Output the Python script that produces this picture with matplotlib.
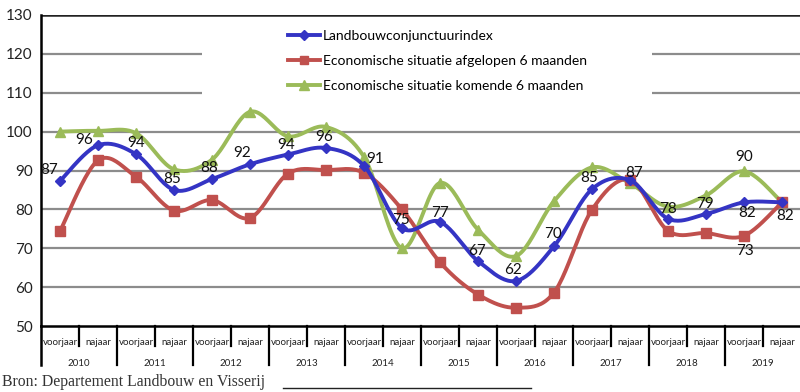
import numpy as np
import matplotlib
matplotlib.use("Agg")
import matplotlib.pyplot as plt
from matplotlib.patches import Rectangle
from matplotlib.lines import Line2D

years = ["2010", "2011", "2012", "2013", "2014", "2015", "2016", "2017", "2018", "2019"]
halves = ["voorjaar", "najaar"]

index_vals = [87.3, 96.5, 94.2, 85.0, 87.8, 91.6, 94.1, 95.8, 91.2, 75.2, 76.8, 66.7, 61.6, 70.5, 85.2, 87.5, 77.6, 78.8, 81.8, 81.8]
past_vals = [74.4, 92.6, 88.4, 79.7, 82.4, 77.8, 89.2, 90.1, 89.4, 80.0, 66.4, 58.1, 54.7, 58.6, 79.9, 87.6, 74.5, 73.9, 73.2, 81.8]
future_vals = [100.0, 100.2, 99.6, 90.3, 92.8, 105.1, 98.8, 101.2, 93.5, 70.0, 86.8, 74.8, 68.0, 82.1, 90.8, 86.7, 80.7, 83.6, 89.8, 81.8]

series_names = ["Landbouwconjunctuurindex",
                "Economische situatie afgelopen 6 maanden",
                "Economische situatie komende 6 maanden"]

# labels: (category index, label text, which series, offset in points)
label_points = [(0, "87", 0, (-8, 8)), (1, "96", 0, (-10, 4)), (2, "94", 0, (0, 8)),
                (3, "85", 0, (-1, 8)), (4, "88", 0, (-2, 8)), (5, "92", 0, (-6, 8)),
                (6, "94", 0, (-1, 7)), (7, "96", 0, (-1, 8)), (8, "91", 0, (8, 5)),
                (9, "75", 0, (-1, 6)), (10, "77", 0, (0, 6)), (11, "67", 0, (-1, 7)),
                (12, "62", 0, (-2, 8)), (13, "70", 0, (-1, 9)), (14, "85", 0, (-2, 8)),
                (15, "87", 1, (3, 5)), (16, "78", 0, (0, 7)), (17, "79", 0, (-1, 7)),
                (18, "82", 0, (2, -8)), (18, "90", 2, (0, 10)), (18, "73", 1, (1, -11)),
                (19, "82", 0, (2, -10))]

plt.rcParams['font.family'] = ['Lato', 'DejaVu Sans']

def smooth(y, n=24):
    y = np.asarray(y, float)
    x = np.arange(len(y), dtype=float)
    P = np.column_stack([x, y])
    P = np.vstack([P[0], P, P[-1]])
    out = []
    t = np.linspace(0, 1, n)
    for i in range(1, len(P) - 2):
        p0, p1, p2, p3 = P[i - 1], P[i], P[i + 1], P[i + 2]
        c1 = p1 + (p2 - p0) / 6.0
        c2 = p2 - (p3 - p1) / 6.0
        seg = ((1 - t) ** 3)[:, None] * p1 + (3 * (1 - t) ** 2 * t)[:, None] * c1 \
            + (3 * (1 - t) * t ** 2)[:, None] * c2 + (t ** 3)[:, None] * p2
        out.append(seg if i == 1 else seg[1:])
    S = np.vstack(out)
    return S[:, 0], S[:, 1]

fig = plt.figure(figsize=(8, 3.92), dpi=100)
ax = fig.add_axes([41 / 800, 1 - 326 / 392, 760 / 800, (326 - 15) / 392])

ax.set_ylim(50, 130)
ax.set_xlim(-0.5, len(index_vals) - 0.5)
ax.set_yticks(np.arange(50, 131, 10))
ax.tick_params(axis='y', length=0, labelsize=11, pad=6, colors='#222222')
ax.set_xticks([])
for s in ['right', 'top']:
    ax.spines[s].set_visible(False)
ax.spines['left'].set_linewidth(1.8)
ax.spines['bottom'].set_linewidth(1.8)
for v in range(60, 130, 10):
    ax.axhline(v, color='#8c8c8c', lw=1.6, zorder=1)
ax.axhline(130, color='#222222', lw=1.8, zorder=1)

# white legend area covering gridlines
ax.add_patch(Rectangle((202 / 800, 1 - 102 / 392), 450 / 800, 82 / 392, transform=fig.transFigure,
                       facecolor='white', edgecolor='none', zorder=2))

colors = ['#3434c4', '#c0504d', '#9bbb59']
markers = ['D', 's', '^']
msizes = [5.5, 7, 7.5]
data = [index_vals, past_vals, future_vals]
zs = [5, 4, 3]
for vals, c, m, ms, z in zip(data, colors, markers, msizes, zs):
    sx, sy = smooth(vals)
    ax.plot(sx, sy, color=c, lw=2.8, zorder=z, solid_capstyle='round')
    ax.plot(np.arange(len(vals)), vals, linestyle='none', marker=m, ms=ms, color=c, zorder=z)

for idx, txt, si, off in label_points:
    ax.annotate(txt, (idx, data[si][idx]), xytext=off, textcoords='offset points',
                ha='center', va='center', fontsize=11, color='#111111', zorder=6)

handles = [Line2D([], [], color=c, lw=2.8, marker=m, ms=ms * 0.9) for c, m, ms in zip(colors, markers, msizes)]
leg = ax.legend(handles, series_names, loc='upper left', bbox_to_anchor=(281 / 800, 1 - 23 / 392),
                bbox_transform=fig.transFigure, frameon=False, fontsize=10, handlelength=2.3,
                handletextpad=0.2, labelspacing=0.95, borderpad=0)
leg.set_zorder(7)

# two-level category axis
n = len(index_vals)
trans = ax.get_xaxis_transform()
for i in range(n):
    ax.text(i, -0.04, halves[i % 2], transform=trans, ha='center', va='top', fontsize=7, color='#222222')
for j, yr in enumerate(years):
    ax.text(2 * j + 0.5, -0.105, yr, transform=trans, ha='center', va='top', fontsize=7, color='#222222')
for k in range(1, n):
    x = k - 0.5
    if k % 2 == 0:
        ax.plot([x, x], [0, -39 / 311], transform=trans, color='black', lw=1.6, clip_on=False)
    else:
        ax.plot([x, x], [0, -20 / 311], transform=trans, color='black', lw=1.6, clip_on=False)
ax.plot([-0.5, -0.5], [0, -39 / 311], transform=trans, color='black', lw=1.8, clip_on=False)

fig.text(2 / 800, 1 - 382 / 392, "Bron: Departement Landbouw en Visserij", fontsize=11.3,
         family=['Liberation Serif'], va='center', ha='left', color='#333333')
fig.add_artist(Line2D([283 / 800, 531 / 800], [1 - 388 / 392, 1 - 388 / 392], color='#222222', lw=1))

fig.savefig("out.png", dpi=100)
